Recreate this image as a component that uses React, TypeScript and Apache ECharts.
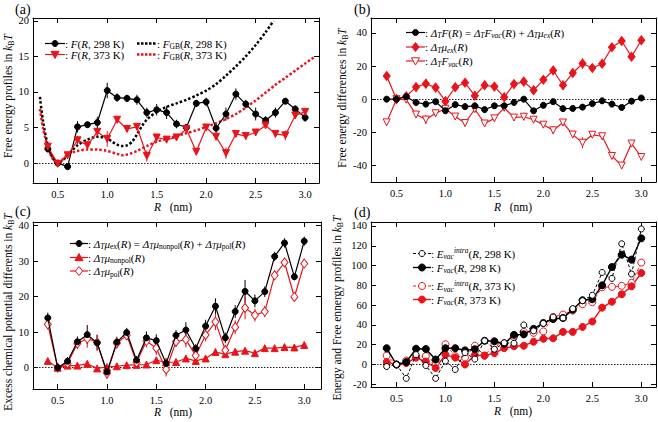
import React, { useEffect, useRef } from 'react';
import * as echarts from 'echarts';

const FONT = '"Liberation Serif", "Times New Roman", Times, serif';
const RED = '#e8141c';
const BLK = '#000000';

// Common abscissa (nm)
const R = [0.4, 0.5, 0.6, 0.7, 0.8, 0.9, 1.0, 1.1, 1.2, 1.3, 1.4, 1.5, 1.6, 1.7, 1.8, 1.9, 2.0, 2.1, 2.2, 2.3, 2.4, 2.5, 2.6, 2.7, 2.8, 2.9, 3.0];

// Panel (a)
const F298 = [2.0, 0.0, -0.5, 5.1, 5.4, 5.7, 10.2, 9.2, 9.1, 8.9, 7.1, 7.5, 7.1, 5.5, 5.0, 8.4, 8.6, 4.9, 6.9, 9.7, 8.3, 6.9, 6.0, 7.1, 8.7, 7.6, 6.4];
const F298Err = [0.5, 0.1, 0.3, 0.8, 0.4, 0.8, 1.1, 0.6, 0.5, 0.7, 0.7, 0.8, 0.9, 0.6, 0.5, 0.5, 0.6, 0.7, 0.9, 0.8, 0.6, 0.9, 0.6, 0.7, 0.4, 0.5, 0.6];
const F373 = [2.3, -0.1, 1.1, 3.2, 2.5, 4.4, 3.4, 6.1, 4.8, 5.1, 1.0, 3.6, 3.3, 3.6, 4.8, 1.6, 5.0, 3.7, 1.4, 4.1, 3.8, 4.3, 5.3, 4.1, 3.9, 6.7, 7.2];
const F373Err = [0.4, 0.3, 0.5, 0.6, 0.6, 0.5, 1.1, 0.5, 0.4, 0.4, 0.8, 0.5, 0.5, 0.5, 0.5, 0.5, 0.4, 0.5, 0.8, 0.4, 0.5, 0.4, 0.5, 0.5, 0.7, 0.5, 0.5];
const gbR298 = [0.32, 0.35, 0.4, 0.45, 0.5, 0.55, 0.6, 0.7, 0.8, 0.9, 1.0, 1.05, 1.1, 1.15, 1.2, 1.25, 1.3, 1.35, 1.4, 1.5, 1.6, 1.7, 1.8, 1.9, 2.0, 2.1, 2.2, 2.3, 2.4, 2.5, 2.6, 2.68];
const gb298 = [9.3, 6.0, 2.5, 0.7, 0.05, 0.4, 1.1, 2.5, 3.3, 3.7, 3.5, 3.0, 2.6, 2.4, 2.5, 3.0, 4.0, 5.2, 6.1, 7.2, 7.9, 8.4, 8.9, 9.5, 10.2, 11.1, 12.3, 13.6, 15.0, 16.6, 18.4, 20.0];
const gbR373 = [0.32, 0.35, 0.4, 0.45, 0.5, 0.55, 0.6, 0.7, 0.8, 0.9, 1.0, 1.1, 1.15, 1.2, 1.3, 1.4, 1.5, 1.6, 1.7, 1.8, 1.9, 2.0, 2.1, 2.2, 2.3, 2.4, 2.5, 2.6, 2.7, 2.8, 2.9, 3.0, 3.1];
const gb373 = [7.6, 5.0, 2.2, 0.6, 0.05, 0.5, 1.2, 1.7, 1.9, 1.9, 1.7, 1.3, 1.1, 1.2, 1.7, 2.4, 3.0, 3.4, 3.8, 4.2, 4.6, 5.1, 5.6, 6.2, 6.9, 7.8, 8.8, 9.9, 11.0, 12.0, 13.0, 14.0, 15.0];

// Panel (b)
const dF = [0, 0, 1.5, -2, -3, -1.5, -7, -3.3, -4.5, -4, -6.3, -4, -4, -2, 0, -7, -3.7, -1.5, -5.7, -5.6, -4.8, -2.7, -1, -3, -5, -1.2, 0.7];
const dFErr = [0.6, 0.3, 0.9, 0.9, 1.0, 0.8, 1.2, 0.8, 0.9, 0.7, 1.0, 0.9, 0.8, 0.9, 0.9, 1.0, 0.9, 0.8, 1.0, 0.9, 1.0, 0.8, 0.9, 0.9, 1.0, 0.8, 0.9];
const dMuEx = [14, 0, 1.8, 7.3, 9.3, 7, -1.2, 7.2, 9.9, 2.1, 8.4, 7.6, 1.2, 9.1, 10.6, 5.4, 11.7, 17.3, 8.4, 15.8, 21.5, 18.8, 21.4, 31.3, 35.1, 25.6, 35.6];
const dMuExErr = [1.5, 1.0, 1.2, 1.5, 2.7, 2.2, 1.5, 1.5, 1.3, 1.2, 1.8, 1.8, 1.5, 1.5, 2.2, 1.2, 1.8, 2.2, 1.5, 1.8, 3.2, 1.8, 1.5, 1.3, 1.3, 1.0, 1.3];
const dFvac = [-14, 0, -0.3, -9.3, -12.3, -8.5, -5.8, -10.5, -14.4, -6.1, -14.7, -11.6, -5.2, -11.1, -10.6, -12.4, -15.4, -18.8, -14.1, -21.4, -26.3, -21.5, -22.4, -34.3, -40.1, -26.8, -34.9];
const dFvacErr = [1.5, 1.0, 1.3, 1.6, 2.8, 2.3, 1.6, 1.6, 1.4, 1.3, 1.9, 1.9, 1.6, 1.6, 2.3, 1.3, 1.9, 2.3, 1.6, 1.9, 3.3, 1.9, 1.6, 1.4, 1.4, 1.1, 1.4];

// Panel (c)
const muNonpol = [1.9, 0, 0.6, 0.6, 1.1, -0.2, 0.2, 0.4, 0.7, 0.8, 0.9, 2.1, 1.5, 1.6, 2.6, 1.9, 2.6, 4.4, 3.8, 4.5, 4.8, 4.1, 5.5, 5.5, 5.8, 5.7, 6.4];
const muPol = [12.2, 0, 1.2, 6.8, 8.2, 7.1, -1.6, 6.9, 9.1, 1.5, 7.5, 5.5, -0.5, 7.3, 7.9, 3.4, 9.2, 12.9, 4.9, 11.4, 16.8, 14.8, 15.8, 26.0, 29.6, 19.9, 29.3];
const muPolErr = [1.4, 1.0, 1.2, 1.6, 2.6, 2.2, 1.6, 1.5, 1.3, 1.2, 1.8, 1.9, 2.0, 1.5, 2.2, 1.2, 1.8, 2.3, 1.6, 1.9, 3.2, 1.8, 1.6, 1.4, 1.3, 1.0, 1.3];

// Panel (d)
const Evac298 = [-2, 0, -14, 10, -1, -14, 3.5, -5, 12, 5.5, 24, 15.5, 22, 21.5, 40, 34, 41.5, 48, 47, 56.5, 64.5, 70, 93, 87, 122, 91.5, 137];
const Fvac298 = [16.5, 0, 2.5, 16, 15.7, 5, 16.5, 16.5, 14.3, 15.5, 24, 23.5, 21, 30, 30.5, 36, 42, 46, 47, 55.5, 65, 66, 80, 98.5, 111, 106, 127.5];
const Evac373 = [9, 0, 4, 8, 8.5, 1.5, 20.5, 8.5, 7, 19, 9, 20.5, 21.5, 28, 33, 32, 33.5, 48, 50.5, 54.5, 61, 63, 78, 78.5, 79.5, 82.5, 103];
const Fvac373 = [2.5, 0, 1.5, 7, 3, -3.5, 10, 7, 0, 9.5, 9, 11.5, 16.5, 18.5, 19, 23, 26, 26.5, 33, 33, 38, 43.5, 57.5, 63.5, 71, 79, 92.5];

// Axis extents per panel
const xRanges = [[0.25, 3.14], [0.24, 3.15], [0.25, 3.17], [0.24, 3.15]];
const yRanges = [[-2.8, 20.4], [-50, 49], [-6, 41], [-22.7, 144]];
const ySplit = [5, 5, 5, 8];

function rich(size: number) {
  const lh = size + 3;
  const sub = Math.round(size * 0.68 * 10) / 10;
  const base = { fontFamily: FONT, color: '#000' };
  return {
    r: { ...base, fontSize: size, lineHeight: lh },
    i: { ...base, fontSize: size, lineHeight: lh, fontStyle: 'italic' },
    s: { ...base, fontSize: sub, verticalAlign: 'bottom' },
    si: { ...base, fontSize: sub, verticalAlign: 'bottom', fontStyle: 'italic' },
    pi: { ...base, fontSize: sub, verticalAlign: 'top', fontStyle: 'italic' },
  };
}
const RICH = rich(11);
const RICH_AX = rich(11.5);

function txt(x: number, y: number, text: string, opts: any = {}) {
  return {
    type: 'text',
    x,
    y,
    rotation: opts.rotation || 0,
    z: 50,
    style: {
      text,
      rich: opts.rich || RICH,
      fontFamily: FONT,
      fontSize: opts.fontSize || 11,
      fill: '#000',
      align: opts.align || 'left',
      textAlign: opts.align || 'left',
      verticalAlign: 'middle',
      textVerticalAlign: 'middle',
    },
  };
}

function marker(kind: string, cx: number, cy: number, size: number, color: string, filled: boolean) {
  const style = { fill: filled ? color : '#fff', stroke: color, lineWidth: 1 };
  const h = size / 2;
  if (kind === 'circle') return { type: 'circle', z: 51, shape: { cx, cy, r: h }, style };
  let pts: number[][] = [];
  if (kind === 'tri') pts = [[cx, cy - h], [cx + h, cy + h * 0.8], [cx - h, cy + h * 0.8]];
  if (kind === 'triDown') pts = [[cx, cy + h], [cx + h, cy - h * 0.8], [cx - h, cy - h * 0.8]];
  if (kind === 'diamond') pts = [[cx, cy - h], [cx + h * 0.8, cy], [cx, cy + h], [cx - h * 0.8, cy]];
  return { type: 'polygon', z: 51, shape: { points: pts }, style };
}

function legendEntry(x: number, y: number, len: number, color: string, dash: any, width: number, mk: string | null, mkSize: number, filled: boolean, text: string) {
  const els: any[] = [
    { type: 'line', z: 50, shape: { x1: x, y1: y, x2: x + len, y2: y }, style: { stroke: color, lineWidth: width, lineDash: dash } },
  ];
  if (mk) els.push(marker(mk, x + len / 2, y, mkSize, color, filled));
  els.push(txt(x + len, y, text));
  return els;
}

function errSeries(gi: number, vals: number[], errs: number[], color: string) {
  return {
    type: 'custom',
    xAxisIndex: gi * 2,
    yAxisIndex: gi * 2,
    z: 1,
    silent: true,
    data: R.map((r, i) => [r, vals[i], errs[i]]),
    encode: { x: 0, y: 1 },
    renderItem: (params: any, api: any) => {
      const x = api.value(0);
      const y = api.value(1);
      const e = api.value(2);
      const a = api.coord([x, y - e]);
      const b = api.coord([x, y + e]);
      return { type: 'line', shape: { x1: a[0], y1: a[1], x2: b[0], y2: b[1] }, style: { stroke: color, lineWidth: 1 } };
    },
  };
}

function lineSeries(gi: number, xs: number[], ys: number[], o: any) {
  return {
    type: 'line',
    xAxisIndex: gi * 2,
    yAxisIndex: gi * 2,
    data: xs.map((x, i) => [x, ys[i]]),
    symbol: o.symbol || 'none',
    symbolSize: o.size || 6,
    symbolRotate: o.rotate || 0,
    smooth: o.smooth || false,
    z: o.z || 3,
    itemStyle: { color: o.filled === false ? '#fff' : o.color, borderColor: o.color, borderWidth: 1 },
    lineStyle: { color: o.color, width: o.width || 1.2, type: o.dash || 'solid' },
    markLine: o.zero
      ? {
          silent: true,
          symbol: 'none',
          label: { show: false },
          lineStyle: { color: '#222', type: [1.5, 1.5], width: 1 },
          data: [{ yAxis: 0 }],
          z: 1,
        }
      : undefined,
  };
}

const grids = [
  { left: 33, top: 18, width: 286, height: 165 },
  { left: 371, top: 18, width: 285, height: 164 },
  { left: 33, top: 222, width: 288, height: 167 },
  { left: 371, top: 222, width: 285, height: 165 },
];

function axesFor(gi: number) {
  const axisLine = { show: true, onZero: false, lineStyle: { color: '#000', width: 1 } };
  const axisTick = { show: true, inside: true, length: 5, lineStyle: { color: '#000', width: 1 } };
  const label = { fontFamily: FONT, fontSize: 10.5, color: '#000', showMinLabel: false, showMaxLabel: false };
  const [xmin, xmax] = xRanges[gi];
  const [ymin, ymax] = yRanges[gi];
  const xa = (pos: string, show: boolean) => ({
    type: 'value', gridIndex: gi, position: pos, min: xmin, max: xmax, splitNumber: 5,
    axisLine, axisTick, splitLine: { show: false },
    axisLabel: { ...label, show, margin: 6, formatter: (v: number) => v.toFixed(1) },
  });
  const ya = (pos: string, show: boolean) => ({
    type: 'value', gridIndex: gi, position: pos, min: ymin, max: ymax, splitNumber: ySplit[gi],
    axisLine, axisTick, splitLine: { show: false },
    axisLabel: { ...label, show, margin: 4 },
  });
  return { x: [xa('bottom', true), xa('top', false)], y: [ya('left', true), ya('right', false)] };
}

const TX = {
  a1: '{r|: }{i|F}{r|(}{i|R}{r|, 298 K)}',
  a2: '{r|: }{i|F}{r|(}{i|R}{r|, 373 K)}',
  a3: '{r|: }{i|F}{s|GB}{r|(}{i|R}{r|, 298 K)}',
  a4: '{r|: }{i|F}{s|GB}{r|(}{i|R}{r|, 373 K)}',
  b1: '{r|: }{i|Δ}{si|T}{i|F}{r|(}{i|R}{r|) = }{i|Δ}{si|T}{i|F}{si|vac}{r|(}{i|R}{r|) + }{i|Δ}{si|T}{i|μ}{si|ex}{r|(}{i|R}{r|)}',
  b2: '{r|: }{i|Δ}{si|T}{i|μ}{si|ex}{r|(}{i|R}{r|)}',
  b3: '{r|: }{i|Δ}{si|T}{i|F}{si|vac}{r|(}{i|R}{r|)}',
  c1: '{r|: }{i|Δ}{si|T}{i|μ}{s|ex}{r|(}{i|R}{r|) = }{i|Δ}{si|T}{i|μ}{s|nonpol}{r|(}{i|R}{r|) + }{i|Δ}{si|T}{i|μ}{s|pol}{r|(}{i|R}{r|)}',
  c2: '{r|: }{i|Δ}{si|T}{i|μ}{s|nonpol}{r|(}{i|R}{r|)}',
  c3: '{r|: }{i|Δ}{si|T}{i|μ}{s|pol}{r|(}{i|R}{r|)}',
  d1: '{r|: }{i|E}{si|vac}{pi|intra}{r|(}{i|R}{r|, 298 K)}',
  d2: '{r|: }{i|F}{si|vac}{r|(}{i|R}{r|, 298 K)}',
  d3: '{r|: }{i|E}{si|vac}{pi|intra}{r|(}{i|R}{r|, 373 K)}',
  d4: '{r|: }{i|F}{si|vac}{r|(}{i|R}{r|, 373 K)}',
  ya: '{r|Free energy profiles in }{i|k}{s|B}{i|T}',
  yb: '{r|Free energy differences in }{i|k}{s|B}{i|T}',
  yc: '{r|Excess chemical potential differents in }{i|k}{s|B}{i|T}',
  yd: '{r|Energy and Free ennergy profiles in }{i|k}{s|B}{i|T}',
  xn: '{i|R}{r|   (nm)}',
};

export default function App() {
  const ref = useRef<HTMLDivElement>(null);
  useEffect(() => {
    if (!ref.current) return;
    const chart = echarts.init(ref.current, null, { renderer: 'svg' });
    const xAxis: any[] = [];
    const yAxis: any[] = [];
    for (let g = 0; g < 4; g++) {
      const a = axesFor(g);
      xAxis.push(...a.x);
      yAxis.push(...a.y);
    }
    const DOT = [2.5, 2];
    const DASH = [3, 2];
    const series: any[] = [
      // (a)
      lineSeries(0, gbR298, gb298, { color: BLK, width: 2.5, dash: DOT, smooth: 0.3, z: 2, zero: true }),
      lineSeries(0, gbR373, gb373, { color: RED, width: 2.5, dash: DOT, smooth: 0.3, z: 2 }),
      errSeries(0, F298, F298Err, BLK),
      errSeries(0, F373, F373Err, RED),
      lineSeries(0, R, F298, { color: BLK, symbol: 'circle', size: 6 }),
      lineSeries(0, R, F373, { color: RED, symbol: 'triangle', size: 7, rotate: 180 }),
      // (b)
      errSeries(1, dF, dFErr, BLK),
      errSeries(1, dMuEx, dMuExErr, RED),
      errSeries(1, dFvac, dFvacErr, RED),
      lineSeries(1, R, dF, { color: BLK, symbol: 'circle', size: 6, zero: true, z: 4 }),
      lineSeries(1, R, dMuEx, { color: RED, symbol: 'diamond', size: [7, 9] }),
      lineSeries(1, R, dFvac, { color: RED, symbol: 'triangle', size: 7, rotate: 180, filled: false }),
      // (c)
      errSeries(2, dMuEx, dMuExErr, BLK),
      errSeries(2, muPol, muPolErr, RED),
      lineSeries(2, R, dMuEx, { color: BLK, symbol: 'circle', size: 6, zero: true, z: 4 }),
      lineSeries(2, R, muNonpol, { color: RED, symbol: 'triangle', size: 7 }),
      lineSeries(2, R, muPol, { color: RED, symbol: 'diamond', size: [7, 9], filled: false }),
      // (d)
      lineSeries(3, R, Evac298, { color: BLK, symbol: 'circle', size: 6, filled: false, dash: DASH, width: 1, zero: true, z: 5 }),
      lineSeries(3, R, Fvac298, { color: BLK, symbol: 'circle', size: 7, width: 1.4, z: 4 }),
      lineSeries(3, R, Evac373, { color: RED, symbol: 'circle', size: 7, filled: false, dash: DASH, width: 1, z: 3 }),
      lineSeries(3, R, Fvac373, { color: RED, symbol: 'circle', size: 7, width: 1.4, z: 3 }),
    ];

    const graphic: any[] = [
      txt(15, 9, '(a)', { fontSize: 14, rich: {} }),
      txt(354, 9, '(b)', { fontSize: 14, rich: {} }),
      txt(15, 211, '(c)', { fontSize: 14, rich: {} }),
      txt(354, 212, '(d)', { fontSize: 14, rich: {} }),
      txt(8, 96, TX.ya, { rotation: Math.PI / 2, align: 'center', rich: RICH_AX }),
      txt(342, 98, TX.yb, { rotation: Math.PI / 2, align: 'center', rich: RICH_AX }),
      txt(8, 312, TX.yc, { rotation: Math.PI / 2, align: 'center', rich: RICH_AX }),
      txt(337, 308, TX.yd, { rotation: Math.PI / 2, align: 'center', rich: RICH_AX }),
      txt(173, 207, TX.xn, { align: 'center', rich: RICH_AX }),
      txt(513, 207, TX.xn, { align: 'center', rich: RICH_AX }),
      txt(173, 412, TX.xn, { align: 'center', rich: RICH_AX }),
      txt(513, 411, TX.xn, { align: 'center', rich: RICH_AX }),
      ...legendEntry(45, 43.5, 20, BLK, null, 1.2, 'circle', 6, true, TX.a1),
      ...legendEntry(45, 54.5, 20, RED, null, 1.2, 'triDown', 8, true, TX.a2),
      ...legendEntry(137, 43.5, 20, BLK, [2.5, 1.5], 2.5, null, 0, true, TX.a3),
      ...legendEntry(137, 54.5, 20, RED, [2.5, 1.5], 2.5, null, 0, true, TX.a4),
      ...legendEntry(406, 32.5, 19, BLK, null, 1.2, 'circle', 6, true, TX.b1),
      ...legendEntry(406, 47, 19, RED, null, 1.2, 'diamond', 9, true, TX.b2),
      ...legendEntry(406, 61, 19, RED, null, 1.2, 'triDown', 8, false, TX.b3),
      ...legendEntry(70, 243.5, 18, BLK, null, 1.2, 'circle', 6, true, TX.c1),
      ...legendEntry(70, 257.5, 18, RED, null, 1.2, 'tri', 8, true, TX.c2),
      ...legendEntry(70, 271, 18, RED, null, 1.2, 'diamond', 9, false, TX.c3),
      ...legendEntry(413, 253.5, 18, BLK, [3, 2], 1, 'circle', 6, false, TX.d1),
      ...legendEntry(413, 267.5, 18, BLK, null, 1.4, 'circle', 7, true, TX.d2),
      ...legendEntry(413, 286, 18, RED, [3, 2], 1, 'circle', 7, false, TX.d3),
      ...legendEntry(413, 299.5, 18, RED, null, 1.4, 'circle', 7, true, TX.d4),
    ];

    chart.setOption({
      animation: false,
      backgroundColor: '#fff',
      textStyle: { fontFamily: FONT },
      grid: grids.map((g) => ({ ...g, containLabel: false })),
      xAxis,
      yAxis,
      series,
      graphic,
    });
    return () => chart.dispose();
  }, []);
  return <div ref={ref} style={{ position: 'absolute', left: 0, top: 0, width: 658, height: 422 }} />;
}
